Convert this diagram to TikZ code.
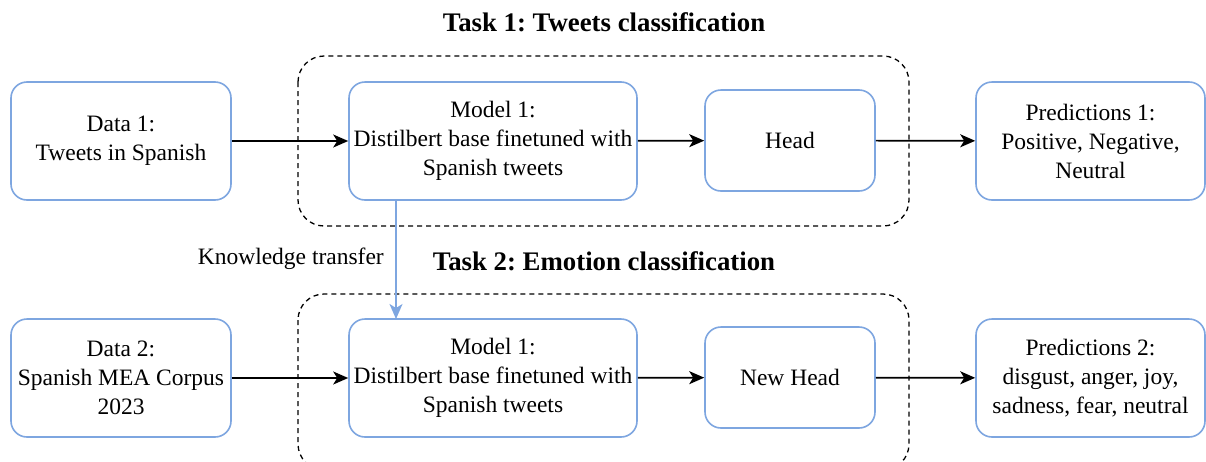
\documentclass[tikz,border=0pt]{standalone}
\usepackage{fontspec}
\setmainfont{Liberation Serif}
\usetikzlibrary{arrows.meta}
\definecolor{boxblue}{HTML}{7EA6E0}
\definecolor{arrowblue}{HTML}{7EA6E0}
\tikzset{
  box/.style={draw=boxblue, line width=1.6pt, rounded corners=16pt, fill=white, align=center, inner sep=0pt,
     font=\fontsize{23.5}{29}\selectfont},
  group/.style={draw=black, line width=1.3pt, rounded corners=26pt, dash pattern=on 5pt off 4pt},
  tip/.style={-{Stealth[length=15pt,width=13pt,inset=4pt]}},
  conn/.style={tip, line width=1.7pt, black},
  ttl/.style={font=\fontsize{26.8}{30}\selectfont\bfseries, inner sep=0pt},
}
\frenchspacing
\begin{document}
\begin{tikzpicture}[x=1pt,y=-1pt]
\useasboundingbox (0,0) rectangle (1206,461);
% titles
\node[ttl] (t1) at (604,22) {Task 1: Tweets classification};
\node[ttl] (t2) at (604,261) {Task 2: Emotion classification};
% groups
\draw[group] (298,56) rectangle (909,226);
\draw[group] (298,294) rectangle (909,470);
% row 1
\node[box, minimum width=220pt, minimum height=118pt] (d1) at (121,141) {Data 1:\\Tweets in Spanish};
\node[box, minimum width=288pt, minimum height=118pt] (m1) at (493,141) {Model 1:\\Distilbert base finetuned with\\Spanish tweets};
\node[box, minimum width=170pt, minimum height=101pt] (h1) at (790,140.5) {Head};
\node[box, minimum width=229pt, minimum height=118pt] (p1) at (1090.5,141) {Predictions 1:\\Positive, Negative,\\Neutral};
% row 2
\node[box, minimum width=220pt, minimum height=118pt] (d2) at (121,378) {Data 2:\\Spanish MEA Corpus\\2023};
\node[box, minimum width=288pt, minimum height=118pt] (m2) at (493,378) {Model 1:\\Distilbert base finetuned with\\Spanish tweets};
\node[box, minimum width=170pt, minimum height=101pt] (h2) at (790,377.5) {New Head};
\node[box, minimum width=229pt, minimum height=118pt] (p2) at (1090.5,378) {Predictions 2:\\disgust, anger, joy,\\sadness, fear, neutral};
% connectors
\draw[conn] (d1) -- (m1);
\draw[conn] (m1) -- (h1);
\draw[conn] (h1) -- (p1);
\draw[conn] (d2) -- (m2);
\draw[conn] (m2) -- (h2);
\draw[conn] (h2) -- (p2);
\coordinate (kt1) at (396,200);
\coordinate (kt2) at (396,319);
\draw[tip, line width=1.7pt, arrowblue] (kt1) -- (kt2);
\node[black, font=\fontsize{23.5}{26}\selectfont, inner sep=0pt, anchor=east] (ktl) at (384,259) {Knowledge transfer};
\end{tikzpicture}
\end{document}
